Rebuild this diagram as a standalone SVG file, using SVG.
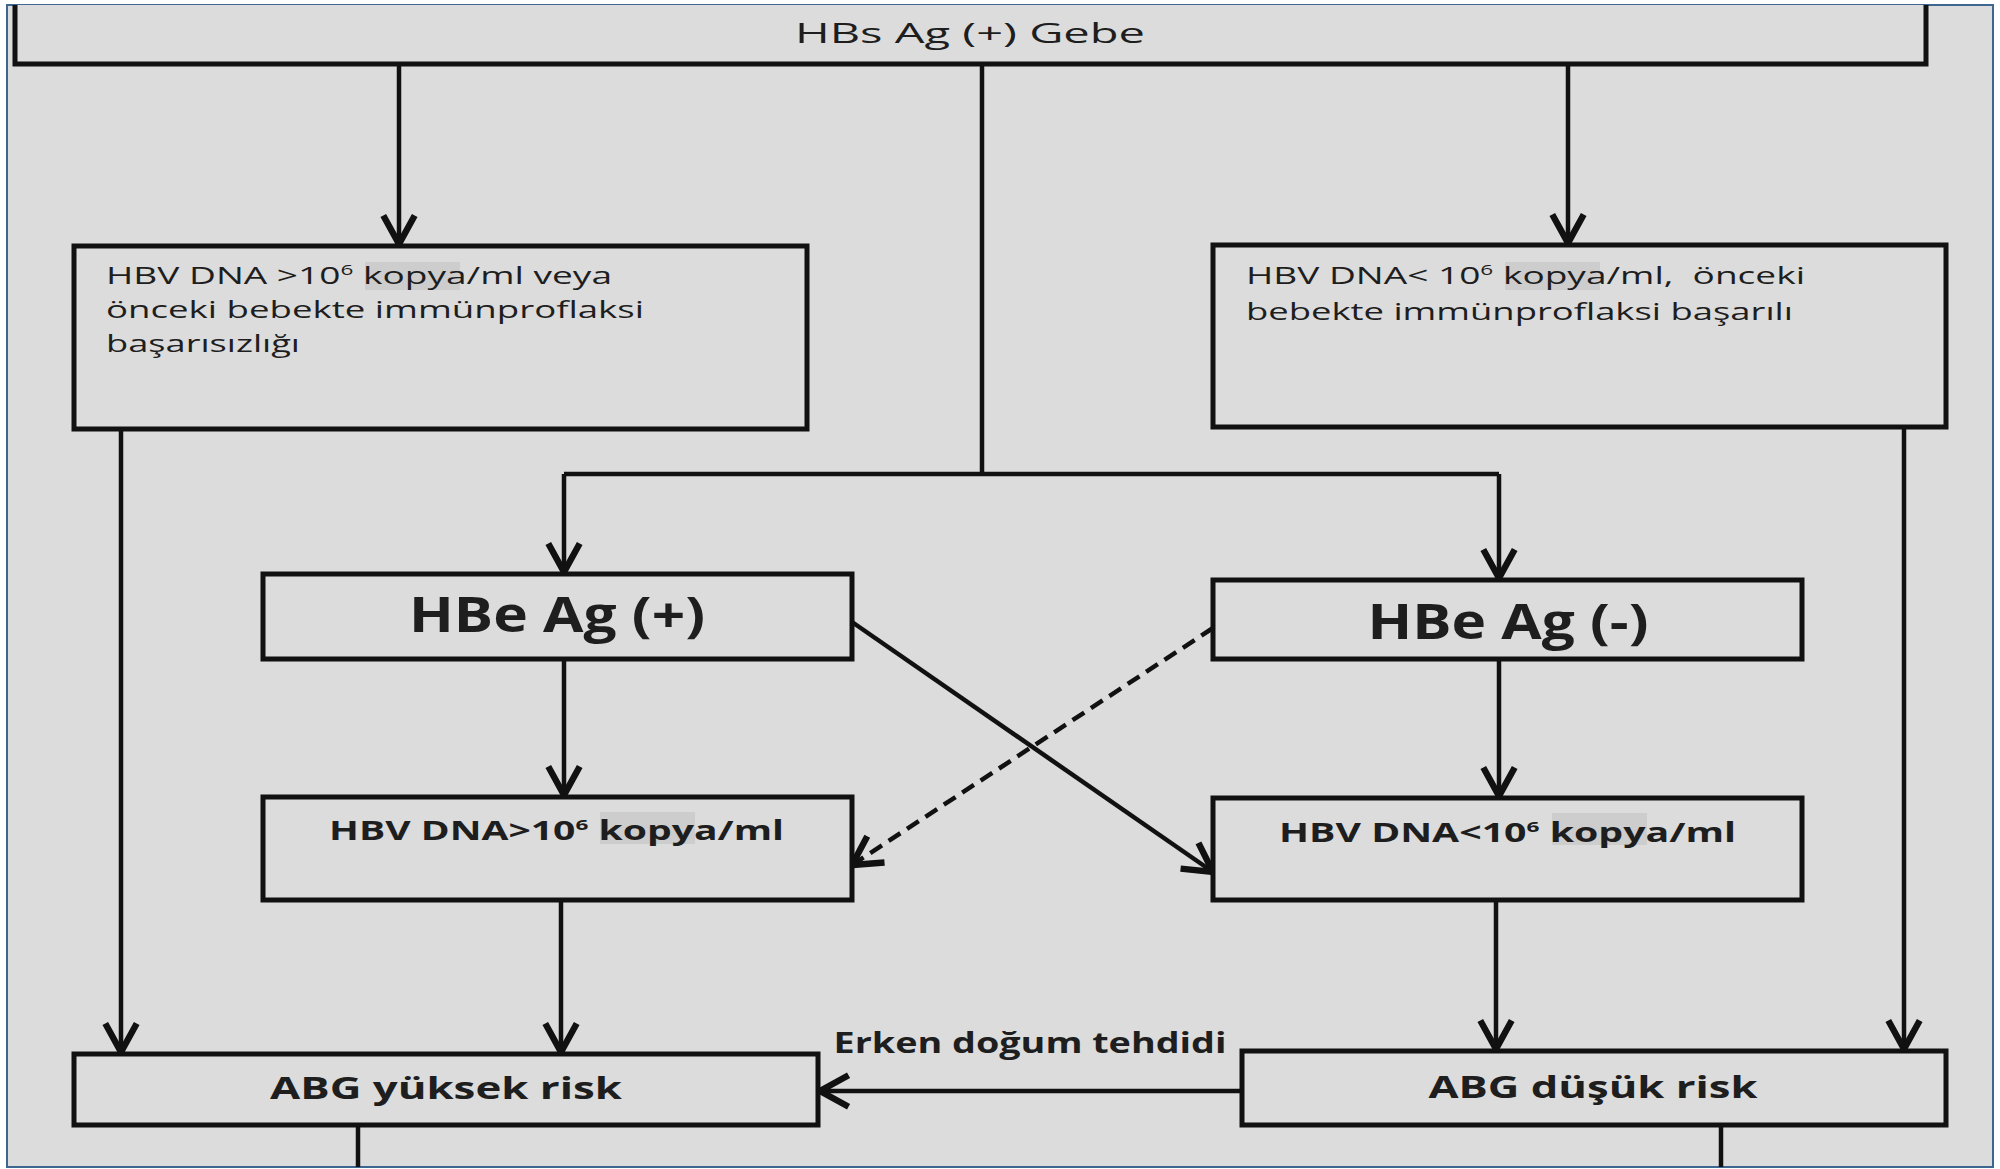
<svg xmlns="http://www.w3.org/2000/svg" width="2000" height="1169" viewBox="0 0 2000 1169">
<defs>
<style>
.box{fill:#dcdcdc;stroke:#111;stroke-width:5}
.ln{fill:none;stroke:#111;stroke-width:4.5}
.arr{marker-end:url(#ah)}
.t{font-family:"Open Sans","Noto Sans",sans-serif;fill:#1e1e1e}
.b{font-weight:bold}
.hl{fill:#cdcdcd}
</style>
<marker id="ah" markerUnits="userSpaceOnUse" markerWidth="40" markerHeight="40" viewBox="-24 -14 28 28" refX="0" refY="0" orient="auto" overflow="visible">
<path d="M-20,-11 L0,0 L-20,11" fill="none" stroke="#111" stroke-width="4.5" stroke-linejoin="miter"/>
</marker>
</defs>
<rect x="0" y="0" width="2000" height="1169" fill="#ffffff"/>
<rect x="7" y="5" width="1986" height="1162" fill="#dcdcdc" stroke="#3d6691" stroke-width="2"/>

<g id="connectors">
<path class="ln arr" d="M399,64 V244"/>
<path class="ln arr" d="M1568,64 V243"/>
<path class="ln" d="M982,64 V474"/>
<path class="ln" d="M564,474 H1499"/>
<path class="ln arr" d="M564,474 V572"/>
<path class="ln arr" d="M1499,474 V578"/>
<path class="ln arr" d="M564,659 V795"/>
<path class="ln arr" d="M1499,659 V796"/>
<path class="ln arr" d="M852,622 L1213,872"/>
<path class="ln arr" d="M1213,628 L852,865" stroke-dasharray="14 8"/>
<path class="ln arr" d="M561,900 V1052"/>
<path class="ln arr" d="M1496,900 V1049"/>
<path class="ln arr" d="M121,429 V1052"/>
<path class="ln arr" d="M1904,427 V1049"/>
<path class="ln arr" d="M1242,1091 H820" stroke-width="5.5"/>
<path class="ln" d="M358,1125 V1167"/>
<path class="ln" d="M1721,1125 V1167"/>
</g>

<g id="n_top">
<path d="M15,5 V64 H1926 V5" fill="#dcdcdc" stroke="#111" stroke-width="5"/>
<text class="t" x="970" y="43" font-size="28" text-anchor="middle" fill="#444" textLength="350" lengthAdjust="spacingAndGlyphs">HBs Ag (+) Gebe</text>
</g>

<g id="n_left1">
<rect class="box" x="74" y="246" width="733" height="183"/>
<rect class="hl" x="365" y="262" width="95" height="28"/>
<text class="t" x="106" y="284" font-size="23" textLength="506" lengthAdjust="spacingAndGlyphs">HBV DNA &gt;10<tspan font-size="14" dy="-9">6</tspan><tspan dy="9"> kopya/ml veya</tspan></text>
<text class="t" x="106" y="318" font-size="23" textLength="538" lengthAdjust="spacingAndGlyphs">önceki bebekte immünproflaksi</text>
<text class="t" x="106" y="352" font-size="23" textLength="194" lengthAdjust="spacingAndGlyphs">başarısızlığı</text>
</g>

<g id="n_right1">
<rect class="box" x="1213" y="245" width="733" height="182"/>
<rect class="hl" x="1505" y="262" width="95" height="28"/>
<text class="t" x="1246" y="284" font-size="23" textLength="559" lengthAdjust="spacingAndGlyphs" xml:space="preserve">HBV DNA&lt; 10<tspan font-size="14" dy="-9">6</tspan><tspan dy="9"> kopya/ml,  önceki</tspan></text>
<text class="t" x="1246" y="320" font-size="23" textLength="547" lengthAdjust="spacingAndGlyphs">bebekte immünproflaksi başarılı</text>
</g>

<g id="n_hbe_pos">
<rect class="box" x="263" y="574" width="589" height="85"/>
<text class="t b" x="557" y="632" font-size="48" text-anchor="middle" textLength="296" lengthAdjust="spacingAndGlyphs">HBe Ag (+)</text>
</g>

<g id="n_hbe_neg">
<rect class="box" x="1213" y="580" width="589" height="79"/>
<text class="t b" x="1508" y="639" font-size="48" text-anchor="middle" textLength="281" lengthAdjust="spacingAndGlyphs">HBe Ag (-)</text>
</g>

<g id="n_dna_high">
<rect class="box" x="263" y="797" width="589" height="103"/>
<rect class="hl" x="600" y="812" width="95" height="32"/>
<text class="t b" x="329" y="840" font-size="26" textLength="455" lengthAdjust="spacingAndGlyphs">HBV DNA&gt;10<tspan font-size="15" dy="-10">6</tspan><tspan dy="10"> kopya/ml</tspan></text>
</g>

<g id="n_dna_low">
<rect class="box" x="1213" y="798" width="589" height="102"/>
<rect class="hl" x="1552" y="813" width="95" height="32"/>
<text class="t b" x="1279" y="842" font-size="26" textLength="457" lengthAdjust="spacingAndGlyphs">HBV DNA&lt;10<tspan font-size="15" dy="-10">6</tspan><tspan dy="10"> kopya/ml</tspan></text>
</g>

<g id="n_abg_high">
<rect class="box" x="74" y="1054" width="744" height="71"/>
<text class="t b" x="446" y="1099" font-size="31" text-anchor="middle" textLength="352" lengthAdjust="spacingAndGlyphs">ABG yüksek risk</text>
</g>

<g id="n_abg_low">
<rect class="box" x="1242" y="1051" width="704" height="74"/>
<text class="t b" x="1593" y="1098" font-size="31" text-anchor="middle" textLength="329" lengthAdjust="spacingAndGlyphs">ABG düşük risk</text>
</g>

<text class="t b" x="1030" y="1053" font-size="28" text-anchor="middle" textLength="393" lengthAdjust="spacingAndGlyphs">Erken doğum tehdidi</text>
</svg>
